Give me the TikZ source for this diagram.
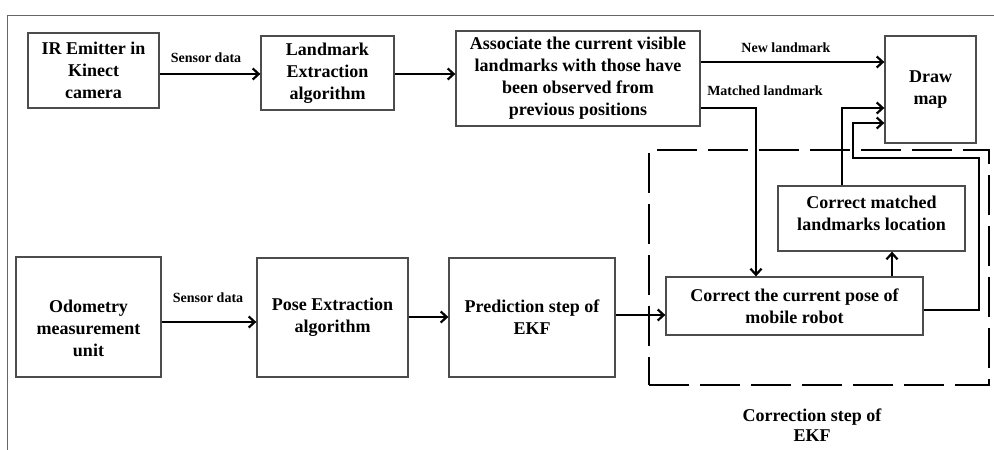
\documentclass[tikz,border=0pt]{standalone}
\usepackage{fontspec}
\setmainfont{Liberation Serif}
\usetikzlibrary{arrows.meta}
\begin{document}
\begin{tikzpicture}[x=1pt,y=-1pt,
  box/.style={draw=black!70, line width=1.3pt, fill=white, inner sep=0pt, align=center,
    font=\fontsize{18}{22}\selectfont\bfseries},
  boxtext/.style={inner sep=0pt, align=center, font=\fontsize{18}{22}\selectfont\bfseries},
  lbl/.style={inner sep=0pt, font=\fontsize{14}{16}\selectfont\bfseries},
  conn/.style={line width=2pt, -{Straight Barb[length=6pt,width=11pt,line width=2.2pt]}},
  dbox/.style={draw=black, line width=2.6pt, dash pattern=on 40pt off 11pt, inner sep=0pt},
  framec/.style={draw=black!60, line width=0.9pt}]
\useasboundingbox (0,0) rectangle (994,450);
\draw[framec] (994,15) -- (7,15) -- (7,450);

% dashed correction region
\node[dbox, minimum width=340pt, minimum height=235pt] (corr) at (819,267.5) {};
\node[inner sep=0pt, align=center, font=\fontsize{18}{20}\selectfont\bfseries] (corrlbl) at (812,425) {Correction step of\\EKF};

% boxes
\node[box, minimum width=131pt, minimum height=75pt] (ir) at (93.5,70.5) {IR Emitter in\\Kinect\\camera};
\node[box, minimum width=133pt, minimum height=74pt] (lm) at (327.5,73) {Landmark\\Extraction\\algorithm};
\node[box, minimum width=244pt, minimum height=95pt] (as) at (578,78.5) {Associate the current visible\\landmarks with those have\\been observed from\\previous positions};
\node[box, minimum width=91pt, minimum height=107pt] (dm) at (930.5,89.5) {Draw\\map};
\node[box, minimum width=145pt, minimum height=120pt] (od) at (88.5,317) {};
\node[boxtext] (odt) at (88.5,328) {Odometry\\measurement\\unit};
\node[box, minimum width=151pt, minimum height=119pt] (pe) at (332.5,317.5) {Pose Extraction\\algorithm};
\node[box, minimum width=166pt, minimum height=119pt] (pr) at (532,317.5) {Prediction step of\\EKF};
\node[box, minimum width=257pt, minimum height=58pt] (cp) at (794.5,306) {Correct the current pose of\\mobile robot};
\node[box, minimum width=187pt, minimum height=65pt] (cm) at (871.5,218.5) {};
\node[boxtext] (cmt) at (871.5,213) {Correct matched\\landmarks location};

% labels
\node[lbl] (sd1) at (206,58) {Sensor data};
\node[lbl] (sd2) at (208,298) {Sensor data};
\node[lbl] (nl) at (786,48) {New landmark};
\node[lbl] (ml) at (765,91) {Matched landmark};

% helper coordinates
\coordinate (r1) at (0,74);
\coordinate (r2) at (0,322);
\coordinate (r3) at (0,317);
\coordinate (r4) at (0,315);
\coordinate (n1) at (0,62);
\coordinate (m1) at (756,108);
\coordinate (c1) at (842,108);
\coordinate (u1) at (892,0);
\coordinate (p1) at (979,310);
\coordinate (p2) at (979,158);
\coordinate (p3) at (853,158);
\coordinate (p4) at (853,123);

% connectors
\draw[conn] (ir.east |- r1) -- (lm.west |- r1);
\draw[conn] (lm.east |- r1) -- (as.west |- r1);
\draw[conn] (as.east |- n1) -- (dm.west |- n1);
\draw[conn] (as.east |- m1) -- (m1) -- (m1 |- cp.north);
\draw[conn] (od.east |- r2) -- (pe.west |- r2);
\draw[conn] (pe.east |- r3) -- (pr.west |- r3);
\draw[conn] (pr.east |- r4) -- (cp.west |- r4);
\draw[conn] (cp.north -| u1) -- (cm.south -| u1);
\draw[conn] (c1 |- cm.north) -- (c1) -- (dm.west |- c1);
\draw[conn] (cp.east |- p1) -- (p1) -- (p2) -- (p3) -- (p4) -- (dm.west |- p4);
\end{tikzpicture}
\end{document}
